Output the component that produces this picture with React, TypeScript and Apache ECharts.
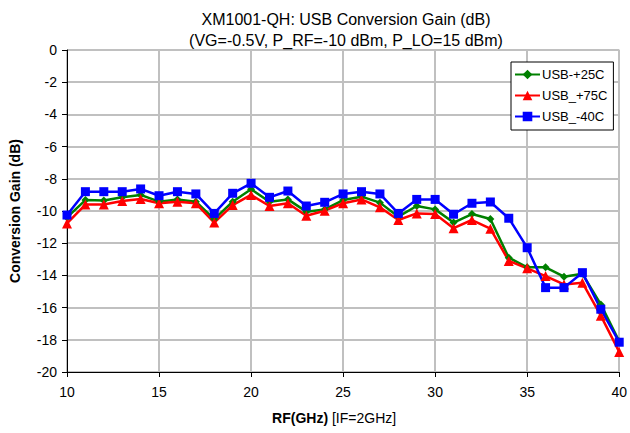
import React, { useEffect, useRef } from "react";
import * as echarts from "echarts";

const freqs = [10, 11, 12, 13, 14, 15, 16, 17, 18, 19, 20, 21, 22, 23, 24, 25, 26, 27, 28, 29, 30, 31, 32, 33, 34, 35, 36, 37, 38, 39, 40];
const usb25 = [-10.4, -9.32, -9.35, -9.15, -9.0, -9.42, -9.28, -9.42, -10.5, -9.42, -8.65, -9.42, -9.28, -10.04, -9.9, -9.32, -9.11, -9.48, -10.35, -9.69, -9.9, -10.72, -10.19, -10.5, -12.9, -13.5, -13.5, -14.08, -13.9, -15.8, -18.1];
const usb75 = [-10.77, -9.6, -9.6, -9.38, -9.25, -9.52, -9.42, -9.52, -10.72, -9.63, -9.0, -9.69, -9.52, -10.29, -9.98, -9.52, -9.28, -9.77, -10.56, -10.15, -10.19, -11.07, -10.56, -11.1, -13.1, -13.56, -14.04, -14.56, -14.45, -16.5, -18.75];
const usbM40 = [-10.25, -8.8, -8.8, -8.8, -8.63, -9.05, -8.8, -8.94, -10.15, -8.9, -8.28, -9.15, -8.76, -9.69, -9.46, -8.94, -8.8, -8.94, -10.15, -9.28, -9.28, -10.2, -9.52, -9.44, -10.45, -12.28, -14.76, -14.76, -13.83, -16.1, -18.15];
const seriesNames = ["USB-+25C", "USB_+75C", "USB_-40C"];
const titleLines = ["XM1001-QH: USB Conversion Gain (dB)", "(VG=-0.5V, P_RF=-10 dBm, P_LO=15 dBm)"];

const FONT = "'Liberation Sans', Arial, sans-serif";

export default function App() {
  const ref = useRef<HTMLDivElement>(null);
  useEffect(() => {
    if (!ref.current) return;
    document.body.style.margin = "0";
    const chart = echarts.init(ref.current, null, { renderer: "svg" });
    const pair = (ys: number[]) => freqs.map((x, i) => [x, ys[i]]);
    const mk = (name: string, ys: number[], color: string, symbol: string, size: number) => ({
      name,
      type: "line",
      data: pair(ys),
      symbol,
      symbolSize: size,
      showSymbol: true,
      lineStyle: { color, width: 2.5 },
      itemStyle: { color, borderWidth: 0 },
      emphasis: { disabled: true },
    });
    chart.setOption({
      animation: false,
      textStyle: { fontFamily: FONT },
      tooltip: { show: false },
      title: {
        text: titleLines.join("\n"),
        left: 341,
        top: 4,
        textAlign: "center",
        textStyle: { fontFamily: FONT, fontSize: 16, fontWeight: "normal", color: "#000", lineHeight: 21 },
      },
      legend: {
        orient: "vertical",
        left: 511,
        top: 62,
        padding: [6, 6, 7, 3],
        itemGap: 8,
        itemWidth: 25,
        itemHeight: 12,
        backgroundColor: "#fff",
        borderColor: "#000",
        borderWidth: 1,
        textStyle: { fontFamily: FONT, fontSize: 13, color: "#000", padding: [0, 0, 0, -3] },
        data: seriesNames,
      },
      grid: {
        left: 65,
        top: 50,
        right: 8,
        bottom: 61,
        show: true,
        borderColor: "#808080",
        borderWidth: 1,
      },
      xAxis: {
        type: "value",
        min: 10,
        max: 40,
        interval: 5,
        name: "{b|RF(GHz)} [IF=2GHz]",
        nameLocation: "middle",
        nameGap: 39,
        nameTextStyle: {
          fontFamily: FONT,
          fontSize: 14,
          color: "#000",
          padding: [0, 18, 0, 0],
          rich: { b: { fontFamily: FONT, fontSize: 14, fontWeight: "bold", color: "#000" } },
        },
        axisLine: { show: true, onZero: false, lineStyle: { color: "#000", width: 1 } },
        axisTick: { show: true, length: 5, lineStyle: { color: "#000" } },
        minorTick: { show: false },
        minorSplitLine: { show: false },
        axisPointer: { show: false },
        axisLabel: { fontFamily: FONT, fontSize: 14, color: "#000", margin: 13 },
        splitLine: { show: true, lineStyle: { color: "#c0c0c0", width: 2 } },
      },
      yAxis: {
        type: "value",
        min: -20,
        max: 0,
        interval: 2,
        name: "Conversion Gain (dB)",
        nameLocation: "middle",
        nameGap: 45,
        nameTextStyle: { fontFamily: FONT, fontSize: 14, fontWeight: "bold", color: "#000" },
        axisLine: { show: true, onZero: false, lineStyle: { color: "#000", width: 1 } },
        axisTick: { show: true, length: 5, lineStyle: { color: "#000" } },
        minorTick: { show: false },
        minorSplitLine: { show: false },
        axisPointer: { show: false },
        axisLabel: { fontFamily: FONT, fontSize: 14, color: "#000", margin: 10 },
        splitLine: { show: true, lineStyle: { color: "#c0c0c0", width: 2 } },
      },
      series: [
        mk(seriesNames[0], usb25, "#008000", "diamond", 8),
        mk(seriesNames[1], usb75, "#ff0000", "triangle", 10),
        mk(seriesNames[2], usbM40, "#0000ff", "rect", 9),
      ],
    });
    return () => chart.dispose();
  }, []);
  return <div ref={ref} style={{ width: 630, height: 433 }} />;
}
